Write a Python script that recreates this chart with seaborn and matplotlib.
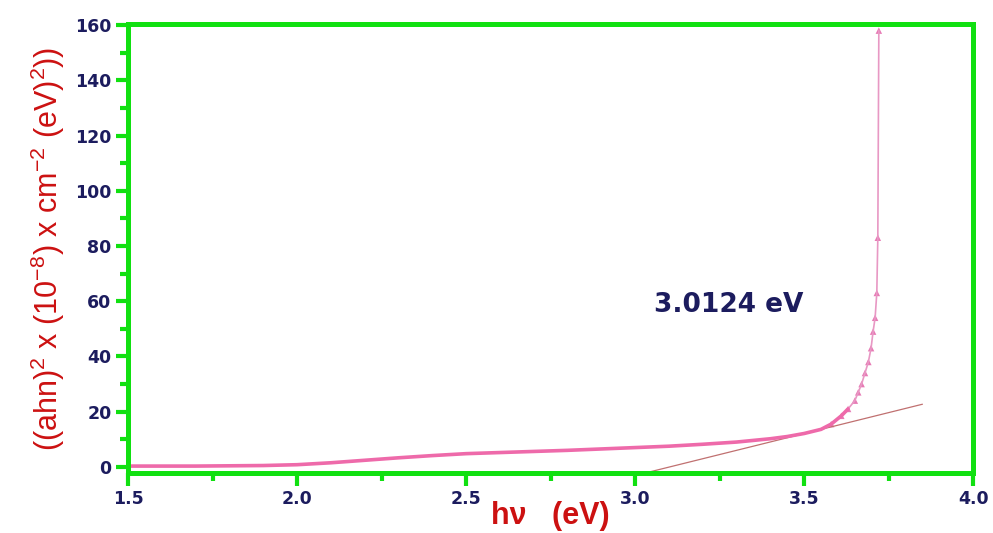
import matplotlib
matplotlib.use("Agg")
import matplotlib.pyplot as plt
import seaborn as sns
import pandas as pd
from matplotlib.ticker import MultipleLocator

# photon energy (eV) and (alpha h nu)^2
hv = [1.5, 1.6, 1.7, 1.8, 1.9, 2.0, 2.1, 2.2, 2.3, 2.4, 2.5, 2.6, 2.7, 2.8,
      2.9, 3.0, 3.1, 3.2, 3.3, 3.4, 3.45, 3.5, 3.55, 3.58, 3.61, 3.63, 3.65,
      3.66, 3.67, 3.68, 3.69, 3.698, 3.704, 3.71, 3.715, 3.718, 3.721]
ahv2 = [0.3, 0.3, 0.3, 0.4, 0.5, 0.8, 1.5, 2.4, 3.3, 4.1, 4.8, 5.2, 5.6, 6.0,
        6.5, 7.0, 7.5, 8.2, 9.0, 10.2, 11.0, 12.1, 13.6, 15.5, 18.5, 21.0, 24.0,
        27.0, 30.0, 34.0, 38.0, 43.0, 49.0, 54.0, 63.0, 83.0, 158.0]

# tangent (Tauc extrapolation) line
tan_x = [3.03, 3.85]
tan_y = [-2.2, 22.7]
gap_label = "3.0124 eV"

df = pd.DataFrame({"hv": hv, "ahv2": ahv2})
low = df[df["ahv2"] <= 22]
high = df[df["ahv2"] >= 15]
tan = pd.DataFrame({"x": tan_x, "y": tan_y})

sns.set_theme(style="white")
plt.rcParams["mathtext.fontset"] = "custom"
plt.rcParams["mathtext.rm"] = "Liberation Sans"
plt.rcParams["mathtext.it"] = "Liberation Sans:italic"
plt.rcParams["mathtext.bf"] = "Liberation Sans:bold"
green = "#11e011"
navy = "#1c1c5e"
red = "#cc1111"

fig = plt.figure(figsize=(9.93, 5.33), dpi=100)
ax = fig.add_axes([0.129, 0.1126, 0.851, 0.8424])

sns.lineplot(data=tan, x="x", y="y", ax=ax, color="#c07070", lw=0.9)
sns.lineplot(data=df, x="hv", y="ahv2", ax=ax, color="#e898c4", lw=1.2,
             sort=False)
sns.lineplot(data=low, x="hv", y="ahv2", ax=ax, color="#ee6aaa", lw=2.6,
             sort=False)
sns.scatterplot(data=high, x="hv", y="ahv2", ax=ax, marker="^", s=22,
                color="#e77ab5", edgecolor="none")

ax.text(3.055, 58.5, gap_label, color=navy, fontsize=19, fontweight="bold",
        va="center", ha="left")

ax.set_xlim(1.5, 4.0)
ax.set_ylim(-2.2, 160.4)
ax.xaxis.set_major_locator(MultipleLocator(0.5))
ax.xaxis.set_minor_locator(MultipleLocator(0.25))
ax.yaxis.set_major_locator(MultipleLocator(20))
ax.yaxis.set_minor_locator(MultipleLocator(10))
ax.xaxis.set_major_formatter(plt.FuncFormatter(lambda v, p: f"{v:.1f}"))

for s in ax.spines.values():
    s.set_color(green)
    s.set_linewidth(3.6)
ax.tick_params(which="both", direction="out", color=green, width=3,
               left=True, bottom=True, top=False, right=False)
ax.tick_params(which="major", length=9, labelsize=12.5, labelcolor=navy, pad=3)
ax.tick_params(which="minor", length=6)
for lab in ax.get_xticklabels() + ax.get_yticklabels():
    lab.set_fontweight("bold")

ax.set_xlabel("h\u03bd   (eV)", color=red, fontsize=22, fontweight="bold",
              labelpad=-5, family=["Liberation Sans", "DejaVu Sans"])
ax.set_ylabel(r"((ahn)$^{2}$ x (10$^{-8}$) x cm$^{-2}$ (eV)$^{2}$))",
              color=red, fontsize=22, labelpad=6, family="Liberation Sans")

fig.savefig("out.png", dpi=100, facecolor="white")
